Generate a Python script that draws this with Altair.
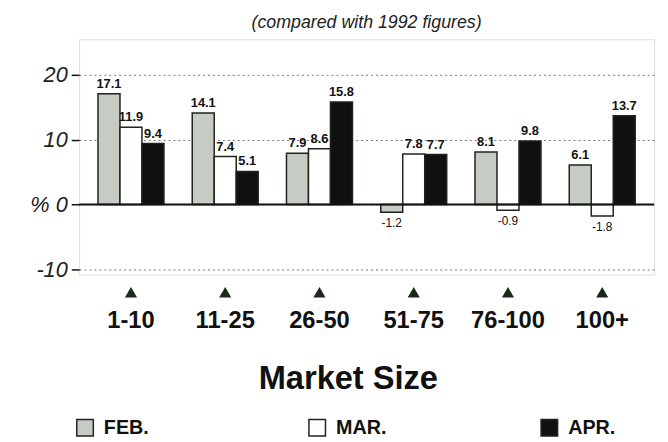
import altair as alt
import pandas as pd

sizes = ["1-10", "11-25", "26-50", "51-75", "76-100", "100+"]
months = ["FEB.", "MAR.", "APR."]
feb = [17.1, 14.1, 7.9, -1.2, 8.1, 6.1]
mar = [11.9, 7.4, 8.6, 7.8, -0.9, -1.8]
apr = [9.4, 5.1, 15.8, 7.7, 9.8, 13.7]
y_ticks = [-10, -5, 0, 5, 10, 15, 20]

rows = []
for m, vals in zip(months, [feb, mar, apr]):
    for s, v in zip(sizes, vals):
        rows.append({"size": s, "month": m, "value": v, "label": f"{v:.1f}"})
df = pd.DataFrame(rows)

FONT = "Liberation Sans"
W, H = 582, 238

x_enc = alt.X(
    "size:N", sort=sizes,
    scale=alt.Scale(paddingInner=0.3, paddingOuter=0.2),
    axis=alt.Axis(
        title="Market Size", labelAngle=0, labelFont=FONT, labelFontWeight="bold",
        labelFontSize=24, labelColor="#111", labelPadding=35, ticks=False, domain=False,
        titleFont=FONT, titleFontSize=33, titleFontWeight="bold", titleColor="#111",
        titlePadding=31, titleX=272, titleAlign="center",
    ),
)
y_scale = alt.Scale(domain=[-10.8, 25.5], nice=False, zero=False)
xo = alt.XOffset("month:N", sort=months, scale=alt.Scale(paddingInner=0, paddingOuter=0))

base = alt.Chart(df)

bars = base.mark_bar(stroke="#1c261c", strokeWidth=1.5).encode(
    x=x_enc,
    xOffset=xo,
    y=alt.Y(
        "value:Q", scale=y_scale,
        axis=alt.Axis(
            title=None, values=y_ticks, grid=True, gridDash=[2, 3], gridColor="#777",
            gridWidth=1, tickSize=8, tickColor="#111", tickWidth=1.5, domain=False,
            labelFont=FONT, labelFontSize=22, labelFontStyle="italic", labelColor="#222",
            labelPadding=4,
            labelExpr="datum.value == 0 ? '% 0' : (datum.value % 10 == 0 ? '' + datum.value : '')",
        ),
    ),
    fill=alt.Fill(
        "month:N", sort=months,
        scale=alt.Scale(domain=months, range=["#c6cbc3", "#ffffff", "#101010"]),
        legend=alt.Legend(
            title=None, orient="none", direction="horizontal", columns=3,
            legendX=-4, legendY=383, symbolType="square", symbolSize=280,
            symbolStrokeColor="#1c261c", symbolStrokeWidth=1.5, labelFont=FONT,
            labelFontSize=20, labelFontWeight="bold", labelColor="#111",
            columnPadding=152, gridAlign="all", labelOffset=9,
        ),
    ),
)

pos_labels = base.transform_filter("datum.value >= 0").mark_text(
    baseline="bottom", dy=-3, font=FONT, fontSize=13, fontWeight="bold", color="#111"
).encode(x=alt.X("size:N", sort=sizes), xOffset=xo, y=alt.Y("value:Q", scale=y_scale), text="label:N")

neg_labels = base.transform_filter("datum.value < 0").mark_text(
    baseline="top", dy=6, font=FONT, fontSize=12, color="#111"
).encode(x=alt.X("size:N", sort=sizes), xOffset=xo, y=alt.Y("value:Q", scale=y_scale), text="label:N")

zero = alt.Chart(pd.DataFrame({"z": [0]})).mark_rule(color="#111", strokeWidth=2).encode(
    y=alt.Y("z:Q", scale=y_scale)
)

tri = alt.Chart(pd.DataFrame({"size": sizes})).mark_point(
    shape="triangle-up", filled=True, size=150, color="#1a2a1a", opacity=1
).encode(x=alt.X("size:N", sort=sizes), y=alt.value(H + 18))

chart = alt.layer(bars, zero, pos_labels, neg_labels, tri).properties(
    width=W, height=H,
    title=alt.TitleParams(
        "(compared with 1992 figures)", font=FONT, fontSize=18, fontStyle="italic",
        fontWeight="normal", color="#222", anchor="middle", offset=7,
    ),
    autosize=alt.AutoSizeParams(type="none"),
    padding={"left": 72, "top": 29, "right": 6, "bottom": 166},
).configure_view(stroke="#1b1b1b", strokeWidth=1.5).configure(background="white")

chart.save("out.html", embed_options={"renderer": "svg", "actions": False})
